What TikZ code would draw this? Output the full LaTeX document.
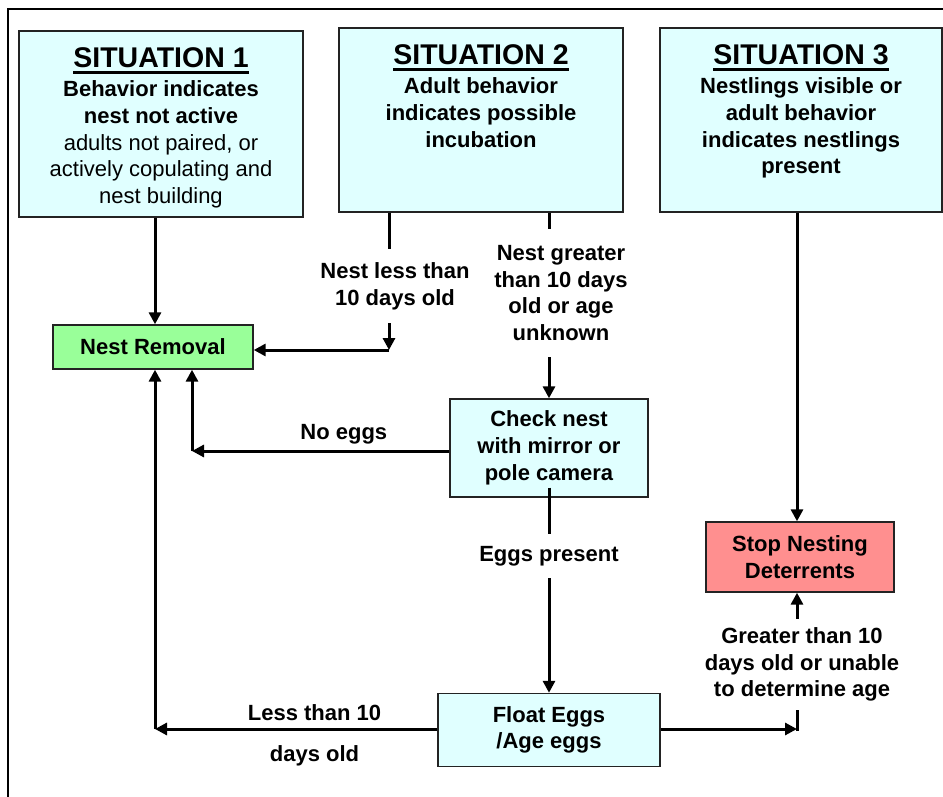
\documentclass[tikz,border=0pt]{standalone}
\usepackage{fontspec}
\setmainfont{Liberation Sans}
\usetikzlibrary{arrows.meta}
\definecolor{boxcyan}{RGB}{224,255,255}
\definecolor{boxgreen}{RGB}{153,255,153}
\definecolor{boxred}{RGB}{255,143,143}
\definecolor{edgegray}{RGB}{35,35,35}
\newcommand\titleul[1]{\leavevmode\setbox0\hbox{#1}\rlap{\rule[-6pt]{\wd0}{2.4pt}}\box0}
\newcommand\bodyf{\fontsize{22}{26.7}\selectfont}
\newcommand\titlef{\fontsize{28.5}{31}\selectfont\bfseries}
\newcommand\sitbox[4]{\parbox[c][#2][t]{#1}{\centering\vspace*{17pt}{\titlef\titleul{#3}\par}\vspace{2.3pt}\bodyf #4\par}}
\begin{document}
\begin{tikzpicture}[x=1pt,y=-1pt,
  sit/.style={draw=edgegray,line width=1.4pt,inner sep=0pt,fill=boxcyan},
  smallbox/.style={draw=edgegray,line width=1.4pt,align=center,font=\bodyf\bfseries,inner sep=0pt},
  lbl/.style={font=\bodyf\bfseries,align=center},
  arr/.style={line width=3pt,-{Triangle[length=12pt,width=12pt]}}]
\useasboundingbox (0,0) rectangle (943,797);
% outer frame (only left and top edges visible)
\draw[line width=2.2pt] (8.3,797) -- (8.3,8.7) -- (943,8.7);

% situation boxes
\node[sit] (s1) at (161,124) {\sitbox{284pt}{186pt}{SITUATION 1}{\textbf{Behavior indicates}\\\textbf{nest not active}\\adults not paired, or\\actively copulating and\\nest building}};
\node[sit] (s2) at (481,120) {\sitbox{284pt}{184pt}{SITUATION 2}{\bfseries Adult behavior\\indicates possible\\incubation}};
\node[sit] (s3) at (801,120) {\sitbox{282pt}{184pt}{SITUATION 3}{\bfseries Nestlings visible or\\adult behavior\\indicates nestlings\\present}};

% action boxes
\node[smallbox,fill=boxgreen,minimum width=200pt,minimum height=44pt] (removal) at (153,347) {Nest Removal};
\node[smallbox,fill=boxcyan,minimum width=198pt,minimum height=98pt] (check) at (549,448) {Check nest\\with mirror or\\pole camera};
\node[smallbox,fill=boxcyan,minimum width=222pt,minimum height=73pt] (float) at (549,730) {Float Eggs\\/Age eggs};
\node[smallbox,fill=boxred,minimum width=188pt,minimum height=70pt] (stop) at (800,557) {Stop Nesting\\Deterrents};

% junction points
\coordinate (j1) at (389,350);
\coordinate (j2) at (192,451);
\coordinate (j3) at (155,729);
\coordinate (j4) at (797,729);

% connectors
\draw[arr] ([xshift=-6pt]s1.south) -- ([xshift=2pt]removal.north);

\draw[arr] (s2.south -| j1) -- node[lbl,fill=white,pos=0.536,xshift=6pt,inner ysep=13.3pt]{Nest less than\\10 days old} (j1);
\draw[arr] (j1) -- (j1 -| removal.east);

\draw[arr] (s2.south -| check) -- node[lbl,fill=white,pos=0.433,xshift=12pt,inner ysep=16pt]{Nest greater\\than 10 days\\old or age\\unknown} (check.north);

\draw[arr] ([yshift=10pt]check.south) -- node[lbl,fill=white,pos=0.333,inner ysep=11.8pt]{Eggs present} (float.north);

\draw[arr] (check.west |- j2) -- node[lbl,pos=0.41,above=5.4pt,inner sep=0pt]{No eggs} (j2);
\draw[arr] (j2) -- (j2 |- removal.south);

\draw[arr] (float.west |- j3) -- node[lbl,pos=0.435,above=7pt,inner sep=0pt]{Less than 10} node[lbl,pos=0.435,below=15pt,inner sep=0pt]{days old} (j3);
\draw[arr] (j3) -- (j3 |- removal.south);

\draw[arr] (float.east |- j4) -- (j4);
\draw[arr] ([yshift=-2pt]j4) -- node[lbl,fill=white,pos=0.48,xshift=5pt,inner ysep=8.7pt]{Greater than 10\\days old or unable\\to determine age} (j4 |- stop.south);

\draw[arr] (s3.south -| j4) -- (j4 |- stop.north);
\end{tikzpicture}
\end{document}
